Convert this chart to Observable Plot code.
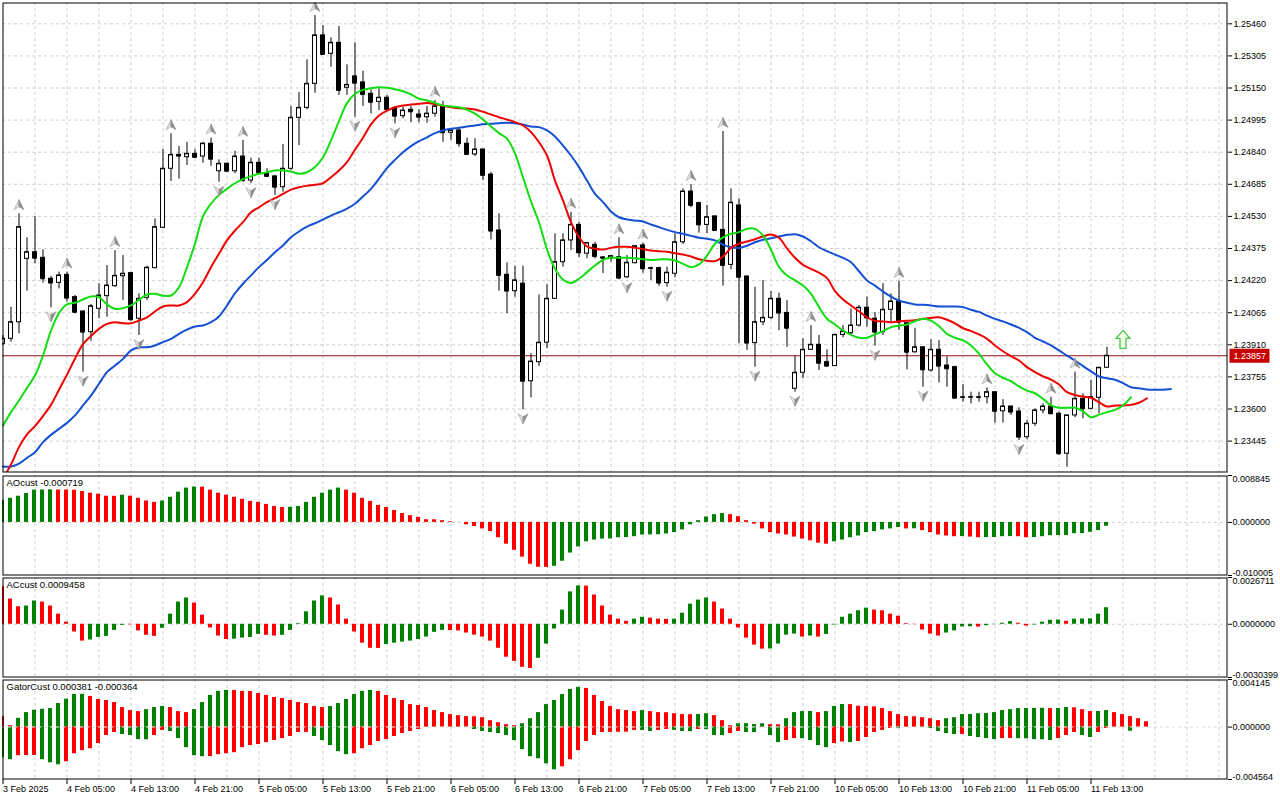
<!DOCTYPE html>
<html>
<head>
<meta charset="utf-8">
<script src="https://cdn.jsdelivr.net/npm/d3@7"></script>
<script src="https://cdn.jsdelivr.net/npm/@observablehq/plot@0.6"></script>
<style>
html,body{margin:0;padding:0;background:#fff;}
#chart{position:relative;width:1280px;height:800px;overflow:hidden;background:#fff;}
#chart svg{position:absolute;left:0;overflow:visible;}
</style>
</head>
<body>
<div id="chart"></div>
<script>
// ---------------- DATA ----------------
const priceTicks = [1.23445,1.23600,1.23755,1.23910,1.24065,1.24220,1.24375,1.24530,1.24685,1.24840,1.24995,1.25150,1.25305,1.25460];
const timeLabelBars = [0,8,16,24,32,40,48,56,64,72,80,88,96,104,112,120,128,136];
const timeLabels = ["3 Feb 2025","4 Feb 05:00","4 Feb 13:00","4 Feb 21:00","5 Feb 05:00","5 Feb 13:00","5 Feb 21:00","6 Feb 05:00","6 Feb 13:00","6 Feb 21:00","7 Feb 05:00","7 Feb 13:00","7 Feb 21:00","10 Feb 05:00","10 Feb 13:00","10 Feb 21:00","11 Feb 05:00","11 Feb 13:00"];
const lastPrice = 1.23857;
const signalBar = 140, signalPrice = 1.23936;

// H1 candles: [open, high, low, close]
const ohlc = [
[1.23915,1.23955,1.23907,1.23939],[1.23939,1.24091,1.23923,1.24019],[1.24019,1.24543,1.23963,1.24478],[1.24325,1.24427,1.24169,1.24357],[1.24357,1.24530,1.24301,1.24328],
[1.24330,1.24369,1.24208,1.24229],[1.24229,1.24240,1.24089,1.24208],[1.24209,1.24261,1.24180,1.24245],[1.24248,1.24261,1.24116,1.24135],[1.24140,1.24148,1.24060,1.24067],
[1.24071,1.24072,1.23778,1.23971],[1.23971,1.24105,1.23927,1.24096],[1.24084,1.24205,1.24036,1.24148],[1.24145,1.24293,1.24043,1.24196],[1.24193,1.24365,1.24188,1.24243],
[1.24241,1.24341,1.24124,1.24253],[1.24256,1.24261,1.24024,1.24031],[1.24036,1.24156,1.23955,1.24132],[1.24137,1.24290,1.24124,1.24282],[1.24280,1.24518,1.24277,1.24478],
[1.24475,1.24853,1.24470,1.24760],[1.24760,1.24929,1.24699,1.24827],[1.24827,1.24868,1.24710,1.24821],[1.24816,1.24888,1.24776,1.24832],[1.24832,1.24852,1.24812,1.24815],
[1.24819,1.24888,1.24787,1.24881],[1.24881,1.24908,1.24772,1.24806],[1.24748,1.24803,1.24695,1.24784],[1.24784,1.24789,1.24743,1.24748],[1.24748,1.24845,1.24736,1.24819],
[1.24819,1.24897,1.24695,1.24703],[1.24703,1.24811,1.24688,1.24789],[1.24789,1.24811,1.24736,1.24741],[1.24739,1.24760,1.24719,1.24723],[1.24723,1.24728,1.24631,1.24671],
[1.24671,1.24877,1.24647,1.24760],[1.24760,1.25061,1.24752,1.25006],[1.25006,1.25128,1.24872,1.25054],[1.25054,1.25286,1.25045,1.25170],[1.25170,1.25500,1.25125,1.25404],
[1.25404,1.25452,1.25307,1.25312],[1.25315,1.25392,1.25250,1.25368],[1.25368,1.25447,1.25114,1.25138],[1.25151,1.25262,1.25114,1.25165],[1.25206,1.25368,1.25009,1.25173],
[1.25177,1.25231,1.25061,1.25119],[1.25122,1.25141,1.25025,1.25081],[1.25083,1.25146,1.25041,1.25103],[1.25103,1.25114,1.25041,1.25046],[1.25054,1.25061,1.24977,1.25014],
[1.25014,1.25057,1.25001,1.25041],[1.25045,1.25061,1.24982,1.25035],[1.25022,1.25045,1.24982,1.25009],[1.25009,1.25061,1.24980,1.25026],[1.25026,1.25090,1.25009,1.25061],
[1.25061,1.25086,1.24888,1.24934],[1.24934,1.24953,1.24897,1.24945],[1.24945,1.24953,1.24864,1.24881],[1.24881,1.24908,1.24828,1.24829],[1.24829,1.24905,1.24819,1.24853],
[1.24853,1.24854,1.24703,1.24728],[1.24732,1.24743,1.24417,1.24459],[1.24462,1.24543,1.24169,1.24245],[1.24248,1.24306,1.24060,1.24169],[1.24169,1.24290,1.24140,1.24221],
[1.24205,1.24290,1.23596,1.23734],[1.23734,1.23867,1.23654,1.23829],[1.23826,1.24151,1.23805,1.23920],[1.23920,1.24200,1.23891,1.24132],[1.24132,1.24446,1.24131,1.24309],
[1.24309,1.24446,1.24285,1.24414],[1.24414,1.24550,1.24365,1.24489],[1.24489,1.24502,1.24330,1.24354],[1.24350,1.24405,1.24325,1.24401],[1.24393,1.24405,1.24325,1.24336],
[1.24332,1.24336,1.24254,1.24328],[1.24325,1.24341,1.24309,1.24338],[1.24333,1.24427,1.24224,1.24232],[1.24236,1.24341,1.24229,1.24306],[1.24304,1.24390,1.24301,1.24386],
[1.24390,1.24401,1.24256,1.24277],[1.24280,1.24285,1.24221,1.24279],[1.24280,1.24285,1.24192,1.24208],[1.24208,1.24285,1.24188,1.24258],[1.24253,1.24446,1.24234,1.24405],
[1.24405,1.24663,1.24394,1.24650],[1.24650,1.24684,1.24572,1.24583],[1.24594,1.24599,1.24449,1.24489],[1.24489,1.24583,1.24446,1.24526],[1.24530,1.24531,1.24461,1.24462],
[1.24465,1.24940,1.24193,1.24293],[1.24296,1.24663,1.24272,1.24596],[1.24583,1.24615,1.23915,1.24236],[1.24240,1.24241,1.23883,1.23918],[1.23918,1.24188,1.23802,1.24019],
[1.24019,1.24221,1.24003,1.24040],[1.24040,1.24167,1.24031,1.24132],[1.24132,1.24159,1.23979,1.24063],[1.24064,1.24124,1.23898,1.23990],[1.23698,1.23855,1.23681,1.23775],
[1.23775,1.23939,1.23746,1.23886],[1.23886,1.24003,1.23882,1.23910],[1.23910,1.23955,1.23786,1.23821],[1.23826,1.23886,1.23802,1.23807],[1.23807,1.23959,1.23806,1.23958],
[1.23958,1.24003,1.23944,1.23974],[1.23966,1.24084,1.23958,1.24003],[1.24003,1.24100,1.23995,1.24089],[1.24089,1.24140,1.23995,1.24040],[1.24036,1.24065,1.23903,1.23971],
[1.23971,1.24205,1.23955,1.24079],[1.24079,1.24156,1.24019,1.24119],[1.24119,1.24216,1.23979,1.24019],[1.24014,1.24015,1.23789,1.23874],[1.23874,1.23990,1.23869,1.23898],
[1.23898,1.23899,1.23705,1.23789],[1.23786,1.23934,1.23778,1.23886],[1.23886,1.23931,1.23725,1.23807],[1.23810,1.23853,1.23705,1.23794],[1.23802,1.23807,1.23651,1.23652],
[1.23657,1.23718,1.23633,1.23656],[1.23656,1.23681,1.23625,1.23657],[1.23657,1.23681,1.23633,1.23656],[1.23657,1.23702,1.23625,1.23681],[1.23681,1.23682,1.23532,1.23589],
[1.23589,1.23645,1.23532,1.23612],[1.23612,1.23613,1.23569,1.23585],[1.23588,1.23606,1.23448,1.23464],[1.23464,1.23545,1.23451,1.23529],[1.23529,1.23601,1.23516,1.23593],
[1.23593,1.23625,1.23577,1.23612],[1.23612,1.23657,1.23572,1.23577],[1.23577,1.23585,1.23376,1.23384],[1.23384,1.23570,1.23319,1.23569],[1.23569,1.23778,1.23558,1.23649],
[1.23649,1.23674,1.23553,1.23601],[1.23601,1.23738,1.23596,1.23657],[1.23654,1.23802,1.23577,1.23799],[1.23799,1.23898,1.23798,1.23857]
];

// Alligator lines (already shifted forward: jaw +8, teeth +5, lips +3)
const jaw = [
1.23322,1.23322,1.23336,1.23364,1.23391,1.23440,1.23475,1.23504,1.23533,1.23569,
1.23617,1.23665,1.23722,1.23778,1.23810,1.23842,1.23883,1.23898,1.23898,1.23907,
1.23923,1.23939,1.23963,1.23983,1.23998,1.24003,1.24019,1.24047,1.24100,1.24159,
1.24205,1.24245,1.24285,1.24320,1.24357,1.24390,1.24429,1.24457,1.24481,1.24497,
1.24515,1.24534,1.24550,1.24567,1.24591,1.24626,1.24663,1.24712,1.24763,1.24803,
1.24840,1.24869,1.24893,1.24912,1.24932,1.24945,1.24953,1.24958,1.24964,1.24969,
1.24975,1.24977,1.24980,1.24982,1.24980,1.24974,1.24964,1.24961,1.24945,1.24916,
1.24872,1.24824,1.24768,1.24703,1.24639,1.24599,1.24554,1.24526,1.24515,1.24510,
1.24505,1.24491,1.24478,1.24465,1.24454,1.24446,1.24436,1.24427,1.24422,1.24414,
1.24394,1.24381,1.24378,1.24388,1.24405,1.24417,1.24425,1.24433,1.24441,1.24444,
1.24433,1.24410,1.24381,1.24362,1.24346,1.24330,1.24309,1.24265,1.24221,1.24196,
1.24167,1.24143,1.24124,1.24113,1.24105,1.24103,1.24100,1.24095,1.24095,1.24095,
1.24092,1.24079,1.24069,1.24051,1.24035,1.24023,1.24008,1.23992,1.23971,1.23944,
1.23926,1.23907,1.23883,1.23858,1.23834,1.23807,1.23782,1.23757,1.23749,1.23741,
1.23725,1.23705,1.23700,1.23694,1.23693,1.23693,1.23697
];
const teeth = [
1.23264,1.23332,1.23416,1.23478,1.23517,1.23566,1.23620,1.23693,1.23766,1.23843,
1.23913,1.23953,1.23987,1.24011,1.24019,1.24014,1.24014,1.24027,1.24043,1.24071,
1.24095,1.24100,1.24100,1.24116,1.24156,1.24212,1.24285,1.24350,1.24414,1.24462,
1.24502,1.24550,1.24574,1.24599,1.24618,1.24639,1.24659,1.24671,1.24678,1.24683,
1.24690,1.24719,1.24752,1.24792,1.24852,1.24910,1.24974,1.25017,1.25041,1.25057,
1.25065,1.25070,1.25074,1.25077,1.25072,1.25064,1.25057,1.25052,1.25051,1.25046,
1.25035,1.25022,1.25009,1.24998,1.24985,1.24969,1.24937,1.24888,1.24824,1.24703,
1.24607,1.24502,1.24430,1.24385,1.24374,1.24370,1.24378,1.24383,1.24383,1.24378,
1.24372,1.24365,1.24362,1.24359,1.24352,1.24346,1.24336,1.24323,1.24316,1.24314,
1.24336,1.24378,1.24398,1.24409,1.24420,1.24433,1.24443,1.24427,1.24376,1.24330,
1.24296,1.24277,1.24258,1.24232,1.24169,1.24129,1.24100,1.24072,1.24043,1.24025,
1.24023,1.24019,1.24024,1.24026,1.24029,1.24036,1.24040,1.24043,1.24031,1.24014,
1.23990,1.23976,1.23960,1.23939,1.23907,1.23879,1.23855,1.23834,1.23802,1.23778,
1.23758,1.23742,1.23718,1.23681,1.23668,1.23660,1.23654,1.23633,1.23612,1.23617,
1.23617,1.23620,1.23630,1.23652
];
const lips = [
1.23520,1.23585,1.23641,1.23702,1.23762,1.23858,1.23979,1.24063,1.24105,1.24113,
1.24129,1.24143,1.24140,1.24105,1.24084,1.24087,1.24100,1.24127,1.24153,1.24156,
1.24147,1.24148,1.24188,1.24285,1.24398,1.24530,1.24591,1.24634,1.24663,1.24690,
1.24710,1.24724,1.24736,1.24743,1.24752,1.24752,1.24747,1.24736,1.24743,1.24768,
1.24816,1.24897,1.24990,1.25077,1.25122,1.25141,1.25149,1.25154,1.25151,1.25144,
1.25134,1.25119,1.25098,1.25090,1.25078,1.25065,1.25061,1.25057,1.25045,1.25026,
1.24998,1.24964,1.24932,1.24906,1.24834,1.24718,1.24602,1.24502,1.24370,1.24277,
1.24225,1.24208,1.24229,1.24261,1.24293,1.24320,1.24330,1.24330,1.24330,1.24328,
1.24323,1.24320,1.24322,1.24323,1.24317,1.24301,1.24285,1.24298,1.24341,1.24398,
1.24429,1.24446,1.24454,1.24470,1.24470,1.24438,1.24369,1.24285,1.24245,1.24221,
1.24196,1.24156,1.24092,1.24036,1.24008,1.23979,1.23958,1.23944,1.23944,1.23960,
1.23976,1.23995,1.24002,1.24008,1.24024,1.24036,1.24027,1.24000,1.23963,1.23944,
1.23931,1.23907,1.23867,1.23815,1.23773,1.23751,1.23734,1.23709,1.23689,1.23676,
1.23649,1.23617,1.23606,1.23606,1.23606,1.23589,1.23560,1.23573,1.23585,1.23596,
1.23617,1.23657
];
const fractalUpBars = [2,8,14,21,26,30,39,54,71,77,80,86,90,101,112,123,131,134];
const fractalDownBars = [6,10,17,27,31,34,44,49,65,78,83,94,99,109,115,127,133];

// Awesome Oscillator
const aoTitle = "AOcust -0.000719";
const aoScaleValues = [0.008845, 0, -0.010005];
const aoScaleLabels = ["0.008845", "0.000000", "-0.010005"];
const aoValues = [
0.00417,0.00455,0.00494,0.00545,0.00609,0.00612,0.00615,0.00612,0.00610,0.00608,
0.00583,0.00551,0.00532,0.00494,0.00492,0.00513,0.00494,0.00455,0.00404,0.00378,
0.00404,0.00474,0.00571,0.00647,0.00667,0.00665,0.00609,0.00551,0.00513,0.00474,
0.00436,0.00397,0.00378,0.00340,0.00301,0.00282,0.00284,0.00301,0.00378,0.00474,
0.00551,0.00609,0.00647,0.00609,0.00551,0.00455,0.00397,0.00321,0.00282,0.00224,
0.00167,0.00128,0.00096,0.00051,0.00050,0.00032,0.00013,0.00002,-0.00045,-0.00077,
-0.00122,-0.00173,-0.00288,-0.00410,-0.00526,-0.00654,-0.00788,-0.00846,-0.00848,-0.00827,
-0.00731,-0.00577,-0.00462,-0.00365,-0.00333,-0.00314,-0.00312,-0.00288,-0.00286,-0.00269,
-0.00237,-0.00235,-0.00233,-0.00218,-0.00192,-0.00141,-0.00045,0.00032,0.00103,0.00147,
0.00167,0.00147,0.00109,0.00032,-0.00032,-0.00122,-0.00192,-0.00218,-0.00237,-0.00276,
-0.00314,-0.00346,-0.00391,-0.00410,-0.00365,-0.00333,-0.00288,-0.00256,-0.00192,-0.00173,
-0.00141,-0.00122,-0.00096,-0.00122,-0.00120,-0.00154,-0.00192,-0.00237,-0.00256,-0.00269,
-0.00267,-0.00276,-0.00288,-0.00286,-0.00284,-0.00269,-0.00267,-0.00269,-0.00288,-0.00286,
-0.00269,-0.00250,-0.00248,-0.00246,-0.00212,-0.00210,-0.00186,-0.00154,-0.00072
];
const aoDirs = "GGGGGGG RRRRRRRR G RRRR GGGGG RRRRRRRRRRR GGGGGGG RRRRRRRRRRRRRRRRRRRRRRRRRR GGGGGGGGGGGGGGGGGGGGGG RRRRRRRRRRRRR GGGGGGGGG R G RRRRR G RR GGGG RR GGGGGGGGGG".replace(/ /g, "");

// Accelerator Oscillator
const acTitle = "ACcust 0.0009458";
const acScaleValues = [0.0026711, 0, -0.0030399];
const acScaleLabels = ["0.0026711", "0.0000000", "-0.0030399"];
const acValues = [
0.00215,0.00144,0.00100,0.00104,0.00133,0.00127,0.00104,0.00058,0.00012,-0.00044,
-0.00096,-0.00090,-0.00075,-0.00069,-0.00035,-0.00006,-0.00003,-0.00038,-0.00063,-0.00069,
-0.00023,0.00058,0.00127,0.00150,0.00121,0.00052,-0.00021,-0.00067,-0.00087,-0.00085,
-0.00079,-0.00075,-0.00058,-0.00063,-0.00067,-0.00063,-0.00035,0.00004,0.00071,0.00133,
0.00162,0.00150,0.00110,0.00029,-0.00044,-0.00108,-0.00137,-0.00138,-0.00115,-0.00108,
-0.00102,-0.00096,-0.00087,-0.00073,-0.00046,-0.00035,-0.00036,-0.00038,-0.00050,-0.00062,
-0.00073,-0.00096,-0.00137,-0.00188,-0.00212,-0.00246,-0.00252,-0.00194,-0.00113,-0.00027,
0.00081,0.00185,0.00219,0.00218,0.00167,0.00104,0.00052,0.00029,0.00017,0.00029,
0.00040,0.00035,0.00029,0.00028,0.00029,0.00063,0.00115,0.00138,0.00150,0.00127,
0.00087,0.00029,-0.00021,-0.00079,-0.00119,-0.00142,-0.00141,-0.00113,-0.00062,-0.00056,
-0.00073,-0.00067,-0.00073,-0.00058,-0.00004,0.00040,0.00058,0.00077,0.00092,0.00081,
0.00077,0.00058,0.00046,0.00004,-0.00002,-0.00033,-0.00056,-0.00067,-0.00050,-0.00038,
-0.00015,-0.00014,-0.00016,-0.00008,-0.00002,0.00006,0.00015,0.00006,-0.00010,-0.00004,
0.00012,0.00023,0.00024,0.00017,0.00029,0.00030,0.00031,0.00058,0.000946
];
const acDirs = "RRR GG RRRRRR GGGGG RRRR GGGG RRRRR GGGG RR GGGGGG RRRRRRR GGGGGGGG RRRRRRRRRRR GGGGGG RRRRRR GG RRR GGGGG RRRRRRR GGGG R G R GGGGGG RRRRRRRRR GGGG R GGGG RR GGGG R GGGGG".replace(/ /g, "");

// Gator Oscillator
const gatorTitle = "GatorCust 0.000381 -0.000364";
const gatorScaleValues = [0.004145, 0, -0.004564];
const gatorScaleLabels = ["0.004145", "0.000000", "-0.004564"];
const gatorUpper = [
0.00091,0.00012,0.00076,0.00126,0.00147,0.00155,0.00161,0.00205,0.00243,0.00284,
0.00285,0.00267,0.00240,0.00232,0.00214,0.00170,0.00144,0.00135,0.00152,0.00170,
0.00179,0.00170,0.00135,0.00126,0.00152,0.00214,0.00276,0.00311,0.00320,0.00319,
0.00311,0.00310,0.00293,0.00276,0.00258,0.00249,0.00232,0.00214,0.00205,0.00179,
0.00170,0.00179,0.00205,0.00240,0.00284,0.00311,0.00320,0.00311,0.00276,0.00249,
0.00232,0.00196,0.00188,0.00170,0.00144,0.00126,0.00109,0.00100,0.00091,0.00090,
0.00082,0.00056,0.00038,0.00021,0.00012,0.00029,0.00073,0.00126,0.00196,0.00232,
0.00284,0.00328,0.00346,0.00337,0.00276,0.00223,0.00179,0.00152,0.00144,0.00135,
0.00144,0.00135,0.00126,0.00125,0.00117,0.00109,0.00108,0.00110,0.00117,0.00100,
0.00056,0.00012,0.00029,0.00030,0.00022,0.00029,0.00021,0.00020,0.00073,0.00126,
0.00135,0.00136,0.00126,0.00135,0.00179,0.00197,0.00196,0.00182,0.00179,0.00176,
0.00161,0.00135,0.00109,0.00091,0.00090,0.00082,0.00073,0.00056,0.00073,0.00082,
0.00109,0.00110,0.00117,0.00118,0.00126,0.00144,0.00152,0.00161,0.00162,0.00163,
0.00164,0.00161,0.00162,0.00170,0.00168,0.00152,0.00135,0.00136,0.00144,0.00126,
0.00109,0.00091,0.00073,0.00047
];
const gatorUpperDirs = "RR GGGGGGGGG RRRRRRR GGG RRR GGGGG RRRRRRRRRRRR GGGGGG RRRRRRRRRRRRRRRRRR GGGGGGGG RRRRRRR G RRRRRR GG RRR GGGG RR GGGG R GGG RRRRRRRRRRRR GGGGGGGGGGGGG R GG RRR GG RRRRR".replace(/ /g, "");
const gatorLower = [
-0.00267,-0.00284,-0.00249,-0.00248,-0.00247,-0.00284,-0.00311,-0.00328,-0.00302,-0.00232,
-0.00205,-0.00188,-0.00144,-0.00073,-0.00047,-0.00065,-0.00073,-0.00109,-0.00110,-0.00073,
-0.00029,-0.00038,-0.00100,-0.00179,-0.00249,-0.00258,-0.00257,-0.00240,-0.00232,-0.00223,
-0.00179,-0.00161,-0.00152,-0.00135,-0.00117,-0.00100,-0.00082,-0.00047,-0.00046,-0.00082,
-0.00117,-0.00161,-0.00214,-0.00240,-0.00232,-0.00188,-0.00161,-0.00126,-0.00109,-0.00082,
-0.00056,-0.00038,-0.00021,-0.00003,-0.00002,-0.00001,-0.00001,-0.00002,-0.00002,-0.00021,
-0.00038,-0.00047,-0.00056,-0.00073,-0.00117,-0.00196,-0.00258,-0.00276,-0.00320,-0.00372,
-0.00346,-0.00284,-0.00205,-0.00126,-0.00073,-0.00047,-0.00046,-0.00045,-0.00044,-0.00029,
-0.00030,-0.00038,-0.00029,-0.00021,-0.00029,-0.00038,-0.00039,-0.00021,-0.00022,-0.00073,
-0.00074,-0.00056,-0.00038,-0.00047,-0.00048,-0.00003,-0.00073,-0.00135,-0.00117,-0.00100,
-0.00101,-0.00117,-0.00161,-0.00179,-0.00144,-0.00130,-0.00135,-0.00126,-0.00091,-0.00047,
-0.00029,-0.00012,-0.00013,-0.00003,-0.00002,-0.00003,-0.00012,-0.00038,-0.00056,-0.00065,
-0.00064,-0.00082,-0.00091,-0.00100,-0.00109,-0.00100,-0.00099,-0.00101,-0.00102,-0.00109,
-0.00110,-0.00117,-0.00100,-0.00073,-0.00047,-0.00073,-0.00091,-0.00047,-0.00012,-0.00003,
-0.00002,-0.00036
];
const gatorLowerDirs = "GG RRR GGG RRRRRRR GGGG RR GGGGG RRRRRRRRRRRRR GGGGG RRRRRRRRRRRRR GGGGGGGGGGGGG RRRRRRRRRR GG RR GGG R GGG RR GG R GG RR GGGG RR G RRRRR G RR GGGGG R GGGG RR GGGGG RRR GG RRRR G".replace(/ /g, "");

// ---------------- STYLE ----------------
const FONT = "'Liberation Sans', Arial, sans-serif";
const STYLE = {fontFamily: FONT, fontSize: "9px", background: "transparent", color: "black", overflow: "visible"};
const GREEN = "#008000", RED = "#ff0000", GRID = "#cfcfcf";
const GRIDOPTS = {stroke: GRID, strokeOpacity: 1, strokeDasharray: "3,3"};
const X = {type: "linear", domain: [-0.0625, 153.0625], axis: null};
const vGrid = d3.range(4, 153, 4);
const W = 1280, ML = 2, MR = 53;

const candles = ohlc.map(([o, h, l, c], i) => ({i, o, h, l, c}));
const series = arr => arr.map((v, i) => ({i, v}));
const bars = (vals, dirs) => vals.map((v, i) => ({i, v, d: dirs[i]}));

// symbols
const sym = pts => ({draw(ctx) { ctx.moveTo(pts[0][0], pts[0][1]); for (const p of pts.slice(1)) ctx.lineTo(p[0], p[1]); ctx.closePath(); }});
const FUP_L = sym([[0,-5],[-5,5],[0,2]]);
const FUP_R = sym([[0,-5],[0,2],[5,5]]);
const FDN_L = sym([[0,5],[-5,-5],[0,-2]]);
const FDN_R = sym([[0,5],[0,-2],[5,-5]]);
const BIG_UP = sym([[0,-9],[7,-1],[3,-1],[3,9],[-3,9],[-3,-1],[-7,-1]]);
const TAG = sym([[0,-7],[40,-7],[40,7],[0,7]]);

function barMarks(vals, dirs) {
  return Plot.rect(bars(vals, dirs), {
    x1: d => d.i - 0.3125, x2: d => d.i + 0.1875, y1: 0, y2: "v",
    fill: d => d.d === "G" ? GREEN : RED, clip: true
  });
}
function scaleMarks(values, labels) {
  return [
    Plot.axisY({anchor: "right", ticks: values, tickSize: 4, tickFormat: () => "", label: null}),
    Plot.text([0], {y: () => values[0], text: () => labels[0], frameAnchor: "right", dx: 5, textAnchor: "start", lineAnchor: "top"}),
    Plot.text([0], {y: () => values[1], text: () => labels[1], frameAnchor: "right", dx: 5, textAnchor: "start", lineAnchor: "middle"}),
    Plot.text([0], {y: () => values[2], text: () => labels[2], frameAnchor: "right", dx: 5, textAnchor: "start", lineAnchor: "bottom"})
  ];
}
function titleMark(t) {
  return Plot.text([t], {text: d => d, frameAnchor: "top-left", dx: 4, dy: 4, textAnchor: "start", lineAnchor: "top", fontSize: 9.5});
}

const upData = fractalUpBars.map(i => candles[i]);
const dnData = fractalDownBars.map(i => candles[i]);

// ---------------- MAIN PANEL ----------------
const main = Plot.plot({
  width: W, height: 475, marginLeft: ML, marginRight: MR, marginTop: 2, marginBottom: 3,
  x: X, y: {domain: [1.2329341, 1.2556285], axis: null, label: null},
  style: STYLE,
  marks: [
    Plot.gridX(vGrid, GRIDOPTS),
    Plot.gridY(priceTicks, GRIDOPTS),
    Plot.ruleY([lastPrice], {stroke: "#9a1010", strokeWidth: 1}),
    Plot.ruleX(candles, {x: "i", y1: "l", y2: "h", stroke: "black", clip: true}),
    Plot.rect(candles, {x1: d => d.i - 0.25, x2: d => d.i + 0.25, y1: "o", y2: "c",
      fill: d => d.c >= d.o ? "white" : "black", stroke: "black", strokeWidth: 1, clip: true}),
    Plot.ruleY(candles, {x1: d => d.i - 0.25, x2: d => d.i + 0.25, y: "c", stroke: "black", clip: true}),
    Plot.line(series(jaw), {x: "i", y: "v", stroke: "#1450d2", strokeWidth: 2, curve: "catmull-rom", clip: true}),
    Plot.line(series(teeth), {x: "i", y: "v", stroke: "#ee0000", strokeWidth: 2, curve: "catmull-rom", clip: true}),
    Plot.line(series(lips), {x: "i", y: "v", stroke: "#11dd11", strokeWidth: 2, curve: "catmull-rom", clip: true}),
    Plot.dot(upData, {x: "i", y: "h", symbol: FUP_L, fill: "#e4e4e4", stroke: "#9c9c9c", strokeWidth: 0.6, dy: -9, clip: true}),
    Plot.dot(upData, {x: "i", y: "h", symbol: FUP_R, fill: "#8e8e8e", stroke: "#8e8e8e", strokeWidth: 0.6, dy: -9, clip: true}),
    Plot.dot(dnData, {x: "i", y: "l", symbol: FDN_L, fill: "#e4e4e4", stroke: "#9c9c9c", strokeWidth: 0.6, dy: 9, clip: true}),
    Plot.dot(dnData, {x: "i", y: "l", symbol: FDN_R, fill: "#8e8e8e", stroke: "#8e8e8e", strokeWidth: 0.6, dy: 9, clip: true}),
    Plot.dot([{i: signalBar, p: signalPrice}], {x: "i", y: "p", symbol: BIG_UP, fill: "#f2ffe6", stroke: "#4cc44c", strokeWidth: 1.3}),
    Plot.frame({stroke: "black", inset: 0.5}),
    Plot.axisY({anchor: "right", ticks: priceTicks, tickSize: 4, tickPadding: 2, tickFormat: d => d.toFixed(5), label: null}),
    Plot.dot([lastPrice], {y: d => d, frameAnchor: "right", symbol: TAG, fill: "#c80000", stroke: "none", dx: 2}),
    Plot.text([lastPrice], {y: d => d, frameAnchor: "right", text: d => d.toFixed(5), dx: 6, textAnchor: "start", fill: "white"})
  ]
});

// ---------------- AO PANEL ----------------
const aoPlot = Plot.plot({
  width: W, height: 102, marginLeft: ML, marginRight: MR, marginTop: 1, marginBottom: 1,
  x: X, y: {domain: [aoScaleValues[2], aoScaleValues[0]], axis: null, label: null},
  style: STYLE,
  marks: [
    Plot.gridX(vGrid, GRIDOPTS),
    Plot.ruleY([0], {stroke: GRID, strokeDasharray: "3,3"}),
    barMarks(aoValues, aoDirs),
    Plot.frame({stroke: "black", inset: 0.5}),
    ...scaleMarks(aoScaleValues, aoScaleLabels),
    titleMark(aoTitle)
  ]
});

// ---------------- AC PANEL ----------------
const acPlot = Plot.plot({
  width: W, height: 102, marginLeft: ML, marginRight: MR, marginTop: 1, marginBottom: 1,
  x: X, y: {domain: [acScaleValues[2], acScaleValues[0]], axis: null, label: null},
  style: STYLE,
  marks: [
    Plot.gridX(vGrid, GRIDOPTS),
    Plot.ruleY([0], {stroke: GRID, strokeDasharray: "3,3"}),
    barMarks(acValues, acDirs),
    Plot.frame({stroke: "black", inset: 0.5}),
    ...scaleMarks(acScaleValues, acScaleLabels),
    titleMark(acTitle)
  ]
});

// ---------------- GATOR PANEL ----------------
const gatorPlot = Plot.plot({
  width: W, height: 123, marginLeft: ML, marginRight: MR, marginTop: 1, marginBottom: 22,
  x: X, y: {domain: [gatorScaleValues[2], gatorScaleValues[0]], axis: null, label: null},
  style: STYLE,
  marks: [
    Plot.gridX(vGrid, GRIDOPTS),
    barMarks(gatorUpper, gatorUpperDirs),
    barMarks(gatorLower, gatorLowerDirs),
    Plot.ruleY([0], {stroke: "#dcdcdc", strokeDasharray: "3,3"}),
    Plot.frame({stroke: "black", inset: 0.5}),
    ...scaleMarks(gatorScaleValues, gatorScaleLabels),
    titleMark(gatorTitle),
    Plot.axisX({anchor: "bottom", ticks: timeLabelBars, tickSize: 5, tickPadding: 1, textAnchor: "start", label: null,
      tickFormat: d => timeLabels[timeLabelBars.indexOf(d)]})
  ]
});

const root = document.getElementById("chart");
[[main, 0], [aoPlot, 474], [acPlot, 576], [gatorPlot, 678]].forEach(([svg, top]) => {
  svg.style.top = top + "px";
  root.appendChild(svg);
});
</script>
</body>
</html>
